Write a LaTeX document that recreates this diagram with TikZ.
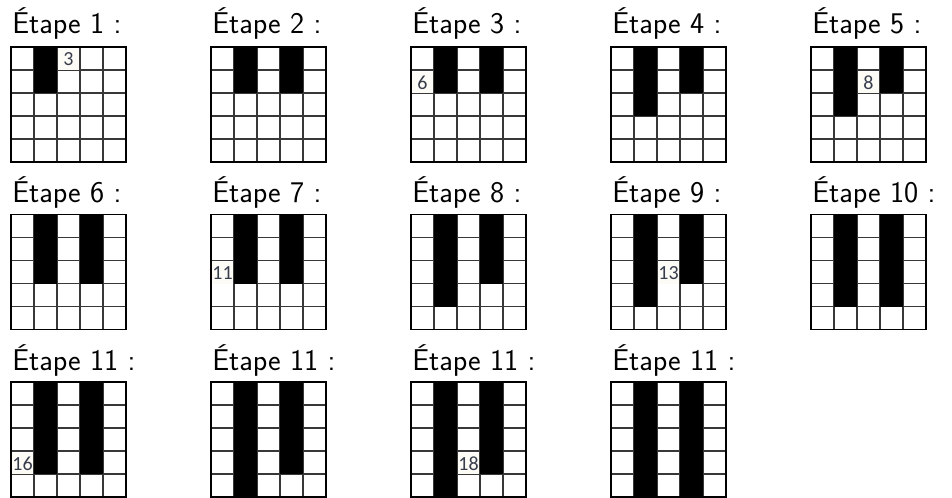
\documentclass[tikz,border=0pt]{standalone}
\usepackage{fontspec}
\newfontfamily\cellfont{Carlito}
\usetikzlibrary{calc}
\definecolor{numgray}{rgb}{0.22,0.24,0.30}
\definecolor{numback}{rgb}{0.99,0.985,0.965}
\definecolor{linegray}{rgb}{0.22,0.22,0.22}
\tikzstyle{gridline} = [line width=1.1pt, draw=linegray]
\tikzstyle{gridframe} = [line width=1.3pt, draw=black]
\tikzstyle{bar} = [fill=black]
\tikzstyle{steplabel} = [anchor=base west, inner sep=0pt, font=\sffamily\fontsize{22.5}{24}\selectfont]
\tikzstyle{numcell} = [fill=numback, inner sep=0pt, minimum size=16pt, text=numgray, font=\cellfont\fontsize{15}{15}\selectfont]

\begin{document}
\begin{tikzpicture}[x=0.75pt,y=-0.75pt]
\useasboundingbox (0,0) rectangle (952,497);

% les quatorze grilles
\foreach \i/\gx/\gy/\by/\lab/\ha/\hb in {
1/11/47/33/1/2/0, 2/211/47/33/2/2/2, 3/411/47/33/3/2/2, 4/611/47/33/4/3/2, 5/811/47/33/5/3/2,
6/11/214.5/202.7/6/3/3, 7/211/214.5/202.7/7/3/3, 8/411/214.5/202.7/8/4/3, 9/611/214.5/202.7/9/4/3, 10/811/214.5/202.7/10/4/4,
11/11/382/370/11/4/4, 12/211/382/370/11/5/4, 13/411/382/370/11/5/4, 14/611/382/370/11/5/5} {
\coordinate (g\i) at (\gx,\gy);
\node[steplabel] (lab\i) at (\gx+1,\by) {Étape \lab\ :};
\foreach \k in {1,...,4} {
\draw[gridline] (\gx+23*\k,\gy) -- ++(0,115);
\draw[gridline] (\gx,\gy+23*\k) -- ++(115,0);
}
\fill[bar] (\gx+23,\gy) rectangle ++(23,23*\ha);
\fill[bar] (\gx+69,\gy) rectangle ++(23,23*\hb);
\draw[gridframe] (\gx,\gy) rectangle ++(115,115);
}

% numeros des cases
\foreach \i/\c/\r/\n in {1/2/0/3, 3/0/1/6, 5/2/1/8, 7/0/2/11, 9/2/2/13, 11/0/3/16, 13/2/3/18}
\node[numcell] (num\i) at ($(g\i)+(23*\c+11.5,23*\r+12.5)$) {\n};
\end{tikzpicture}
\end{document}
